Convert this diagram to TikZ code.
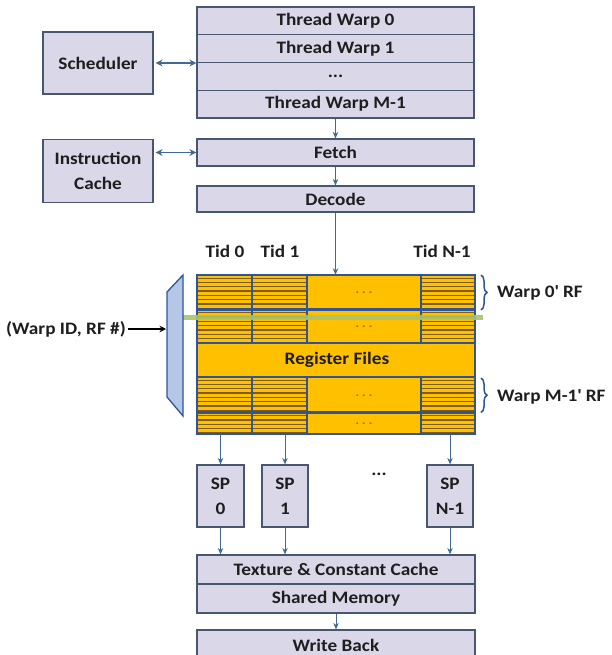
\documentclass[tikz,border=0pt]{standalone}
\usepackage{fontspec}
\setmainfont{Carlito}[FakeStretch=1.1]
\usetikzlibrary{arrows.meta,decorations.pathreplacing}
\definecolor{boxfill}{RGB}{218,216,232}
\definecolor{boxline}{RGB}{72,86,112}
\definecolor{txt}{RGB}{30,30,30}
\definecolor{gold}{RGB}{255,192,0}
\definecolor{stripe}{RGB}{125,92,20}
\definecolor{rfblue}{RGB}{47,85,151}
\definecolor{arrc}{RGB}{65,105,150}
\definecolor{muxfill}{RGB}{180,199,231}
\definecolor{greenbar}{RGB}{169,196,108}
\definecolor{dotcol}{RGB}{150,112,40}
\tikzset{
  box/.style={draw=boxline, fill=boxfill, line width=1.2pt, inner sep=0pt,
    font=\fontsize{17.5}{25}\selectfont\bfseries, text=txt, align=center},
  wide/.style={box, minimum width=277pt},
  lbl/.style={inner sep=0pt, font=\fontsize{17.5}{25}\selectfont\bfseries, text=txt},
  arr/.style={draw=arrc, line width=1pt, -{Stealth[length=6.5pt,width=5.5pt]}},
  darr/.style={draw=arrc, line width=1.4pt, {Stealth[length=7pt,width=7pt]}-{Stealth[length=7pt,width=7pt]}},
  hatchline/.style={draw=stripe, line width=1.3pt},
  grid/.style={draw=rfblue, line width=2.2pt},
  brc/.style={draw=rfblue, line width=1.5pt, decorate, decoration={brace, amplitude=6pt}},
  dotsnode/.style={inner sep=0pt, font=\fontsize{12}{12}\selectfont\bfseries, text=dotcol},
}
\newcommand{\spdots}{.\hspace{3.2pt}.\hspace{3.2pt}.}
\begin{document}
\begin{tikzpicture}[x=1pt,y=-1pt]
\useasboundingbox (0,0) rectangle (611,655);

% Thread warps
\node[wide, minimum height=27.75pt] (tw0) at (335.5,20.9) {Thread Warp 0};
\node[wide, minimum height=27.75pt] (tw1) at (335.5,48.6) {Thread Warp 1};
\node[wide, minimum height=27.75pt] (twd) at (335.5,76.4) {...};
\node[wide, minimum height=27.75pt] (twm) at (335.5,104.1) {Thread Warp M-1};

% Scheduler and instruction cache
\node[box, minimum width=110pt, minimum height=62pt] (sched) at (98,63) {Scheduler};
\node[box, minimum width=110pt, minimum height=63pt] (icache) at (98,171) {Instruction\\Cache};

% Fetch, decode
\node[wide, minimum height=27pt] (fetch) at (335.5,152.5) {Fetch};
\node[wide, minimum height=26pt] (decode) at (335.5,199) {Decode};

\draw[darr] ([xshift=2pt]sched.east) -- (sched.east -| tw0.west);
\draw[darr] ([xshift=2pt]icache.east |- fetch.west) -- (fetch.west);
\draw[arr] (twm.south) -- (fetch.north);
\draw[arr] (fetch.south) -- (decode.north);

% Tid labels
\node[lbl] (tid0) at (225,251) {Tid 0};
\node[lbl] (tid1) at (280,251) {Tid 1};
\node[lbl] (tidn) at (442,251) {Tid N-1};

% Register file block
\node[draw=none, minimum width=278pt, minimum height=159pt, inner sep=0pt] (rf) at (336,354.5) {};
\fill[gold] (197,275) rectangle (475,434);
\foreach \ya/\yb in {275/309.5, 309.5/343, 377/412.5, 412.5/434} {
  \foreach \xa/\xb in {197/252, 252/307, 421/475} {
    \begin{scope}
      \clip (\xa,\ya+2) rectangle (\xb,\yb-2);
      \foreach \k in {0,...,8}
        \draw[hatchline] (\xa,{\ya+3.2+\k*4.3}) -- (\xb,{\ya+3.2+\k*4.3});
    \end{scope}
  }
}
\foreach \yy in {309.5, 343, 377, 412.5}
  \draw[grid] (197,\yy) -- (475,\yy);
\foreach \xx in {252, 307, 421} {
  \draw[grid] (\xx,275) -- (\xx,343);
  \draw[grid] (\xx,377) -- (\xx,434);
}
\draw[draw=rfblue, line width=2.5pt] (197,275) rectangle (475,434);
\node[lbl] (rftext) at (337,360) {Register Files};
\node[dotsnode] (d1) at (364,293) {\spdots};
\node[dotsnode] (d2) at (364,327) {\spdots};
\node[dotsnode] (d3) at (364,396) {\spdots};
\node[dotsnode] (d4) at (364,424) {\spdots};

% green selection bar
\draw[greenbar, line width=5pt, opacity=0.9] (180,317.3) -- (483,317.3);

\draw[arr] (decode.south) -- (decode.south |- rf.north);

% braces
\draw[brc] (481,275) -- (481,310);
\draw[brc] (481,378) -- (481,412.5);
\node[lbl, anchor=west] (w0) at (497,293) {Warp 0\textquotesingle{} RF};
\node[lbl, anchor=west] (wm) at (497,397) {Warp M-1\textquotesingle{} RF};

% mux
\draw[draw=rfblue, fill=muxfill, line width=1.3pt] (167,292) -- (183,275) -- (183,416) -- (167,397) -- cycle;
\coordinate (muxin) at (166,329);
\node[lbl] (sel) at (66,329) {(Warp ID, RF \#)};
\draw[black, line width=1.3pt, -{Stealth[length=6.5pt,width=6.5pt]}] ([xshift=2pt]sel.east) -- (muxin);

% SPs
\node[box, minimum width=47pt, minimum height=62pt] (sp0) at (220.5,496) {SP\\0};
\node[box, minimum width=46pt, minimum height=62pt] (sp1) at (285,496) {SP\\1};
\node[box, minimum width=46pt, minimum height=62pt] (spn) at (450,496) {SP\\N-1};
\node[lbl] (spdots) at (379,474) {...};

\draw[arr] (sp0.north |- rf.south) -- (sp0.north);
\draw[arr] (sp1.north |- rf.south) -- (sp1.north);
\draw[arr] (spn.north |- rf.south) -- (spn.north);

% caches and write back
\node[box, minimum width=278pt, minimum height=29pt] (tex) at (336,569.5) {Texture \& Constant Cache};
\node[box, minimum width=278pt, minimum height=29pt] (shm) at (336,598.5) {Shared Memory};
\node[box, minimum width=278pt, minimum height=30pt] (wb) at (336,645) {Write Back};

\draw[arr] (sp0.south) -- (sp0.south |- tex.north);
\draw[arr] (sp1.south) -- (sp1.south |- tex.north);
\draw[arr] (spn.south) -- (spn.south |- tex.north);
\draw[arr] (shm.south) -- (wb.north);
\end{tikzpicture}
\end{document}
